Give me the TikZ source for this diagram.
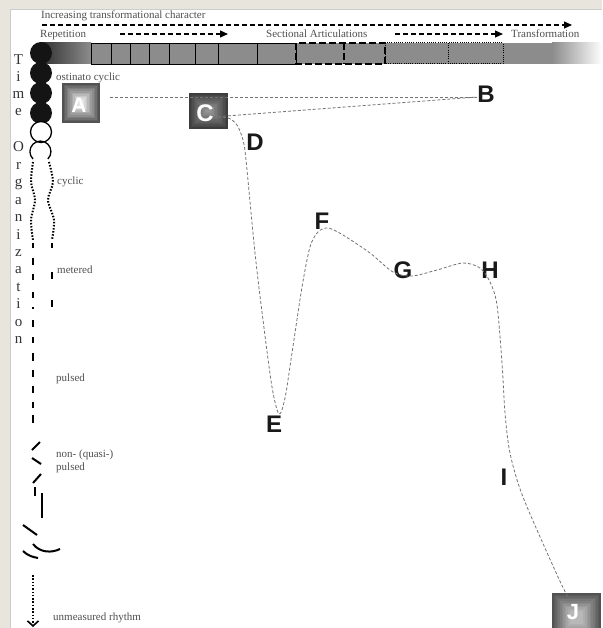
\documentclass[tikz,border=0pt]{standalone}
\usepackage{fontspec}
\setmainfont{Liberation Serif}
\newfontfamily\lsans{Liberation Sans}
\usetikzlibrary{arrows.meta,calc}
\definecolor{beige}{RGB}{231,229,220}
\definecolor{bargray}{RGB}{140,140,140}
\definecolor{txtgray}{RGB}{80,80,80}
\newcommand\gradsq[6]{%
  \foreach \k in {0,...,11}{%
    \pgfmathsetmacro\ff{#5+(#6-#5)*\k/11}%
    \pgfmathsetmacro\dd{\k*1.6}%
    \fill[black!\ff] ({#1+\dd},{#2+\dd}) rectangle ({#3-\dd},{#4-\dd});
  }}
\begin{document}
\begin{tikzpicture}[x=1pt,y=-1pt,
  lbl/.style={anchor=base west, inner sep=0, text=txtgray, font=\fontsize{11}{11}\selectfont},
  vlet/.style={anchor=base, inner sep=0, text=black!80, font=\fontsize{15}{15}\selectfont},
  big/.style={inner sep=0, text=black!90, font=\lsans\bfseries\fontsize{24}{24}\selectfont},
  boxl/.style={big, text=white},
  link/.style={draw=black!55, line width=0.8pt, dash pattern=on 3pt off 2pt},
  toparrow/.style={line width=1.1pt, dash pattern=on 5pt off 3pt, -{Triangle[length=8pt,width=7pt]}},
  pulse/.style={line width=2.2pt},
]
\useasboundingbox (0,0) rectangle (602,628);
\fill[beige] (0,0) rectangle (602,628);
\fill[white] (10,9) rectangle (602,628);
\draw[black!20, line width=0.8pt] (10.4,628) -- (10.4,9.4) -- (602,9.4);

% top texts and arrows
\node[lbl] (inc) at (41,19) {Increasing transformational character};
\coordinate (t1s) at (42,25); \coordinate (t1e) at (572,25);
\draw[toparrow] (t1s) -- (t1e);
\node[lbl] (rep) at (40,38) {Repetition};
\coordinate (t2s) at (120,34); \coordinate (t2e) at (228,34);
\draw[toparrow] (t2s) -- (t2e);
\node[lbl] (sec) at (266,38) {Sectional Articulations};
\coordinate (t3s) at (395,34); \coordinate (t3e) at (503,34);
\draw[toparrow] (t3s) -- (t3e);
\node[lbl] (tra) at (511,38) {Transformation};

% bar
\shade[left color=black!80, right color=bargray] (42,43) rectangle (91,64);
\fill[bargray] (91,43) rectangle (552,64);
\shade[left color=bargray, right color=white] (552,43) rectangle (602,64);
\draw[line width=0.9pt] (91,43) rectangle (296,64);
\foreach \x in {111,130,149,169,195,218,257} \draw[line width=0.9pt] (\x,43) -- (\x,64);
\draw[line width=1.3pt, dash pattern=on 7pt off 3pt] (296,43) rectangle (385,64) (344,43) -- (344,64);
\draw[line width=1pt, dash pattern=on 1pt off 1.2pt] (385,43) rectangle (503,64) (448,43) -- (448,64);

% circles
\foreach \y in {53,73,93,113} \fill[black!92] (41,\y) circle (11pt);
\draw[line width=1.3pt, fill=white] (41,132) circle (10.5pt);
\draw[line width=1.3pt] (33,159) arc (225:-45:10.5pt);

% cyclic dotted
\draw[line width=2pt, dash pattern=on 1.5pt off 1.6pt] plot[smooth] coordinates {(33,162) (31,182) (35,200) (31,220) (33,240)};
\draw[line width=2pt, dash pattern=on 1.5pt off 1.6pt] plot[smooth] coordinates {(49,162) (53,182) (48,200) (54,220) (52,240)};

% metered
\foreach \a/\b in {243/248,258/265,274/280,292/298,307/309} \draw[pulse] (33,\a) -- (33,\b);
\foreach \a/\b in {243/248,272/279,300/307} \draw[pulse] (52,\a) -- (52,\b);
% pulsed
\foreach \a/\b in {320/327,337/343,353/361,370/377,386/393,402/408,415/423} \draw[pulse] (33,\a) -- (33,\b);
% non-pulsed
\draw[line width=2pt] (32,450) -- (40,442);
\draw[line width=2pt] (32,458) -- (41,464);
\draw[line width=2pt] (33,483) -- (41,474);
\draw[line width=2pt] (35,487) -- (35,496);
\draw[line width=2pt] (42,493) -- (42,518);
\draw[line width=2pt] (23,525) -- (37,535);
\draw[line width=2pt] (33,544) .. controls (40,553) and (52,553) .. (60,549);
\draw[line width=2pt] (23,551) .. controls (28,556) and (33,557) .. (38,558);
% unmeasured arrow
\coordinate (u1) at (33,575); \coordinate (u2) at (33,627);
\draw[line width=2pt, dash pattern=on 1.5pt off 1.8pt, -{Straight Barb[length=5pt,width=11pt,line width=1.6pt]}] (u1) -- (u2);

% left labels
\node[lbl] (l1) at (56,81) {ostinato cyclic};
\node[lbl] (l2) at (57,185) {cyclic};
\node[lbl] (l3) at (57,273) {metered};
\node[lbl] (l4) at (56,381) {pulsed};
\node[lbl] (l5) at (56,457) {non- (quasi-)};
\node[lbl] (l6) at (56,470) {pulsed};
\node[lbl] (l7) at (53,620) {unmeasured rhythm};

% vertical title
\foreach \c/\y [count=\n] in {T/65,i/82,m/99,e/116} \node[vlet] (v\n) at (18.5,\y) {\c};
\foreach \c [count=\n] in {O,r,g,a,n,i,z,a,t,i,o,n} \node[vlet] (w\n) at (18.5,{152+(\n-1)*17.4}) {\c};

% boxes
\gradsq{62}{83}{100}{123}{68}{4}
\gradsq{189}{93}{228}{129}{76}{40}
\gradsq{552}{593}{601}{642}{68}{28}
\node[boxl, font=\lsans\bfseries\fontsize{21}{21}\selectfont] (A) at (79,105) {A};
\node[boxl] (C) at (205,113) {C};
\node[boxl, font=\lsans\bfseries\fontsize{22}{22}\selectfont] (J) at (573,612) {J};

% letters
\node[big] (B) at (486,94) {B};
\node[big] (D) at (255,142) {D};
\node[big] (E) at (274,424) {E};
\node[big] (F) at (322,221) {F};
\node[big] (G) at (403,270) {G};
\node[big] (H) at (490,270) {H};
\node[big] (I) at (504,477) {I};

% connectors
\coordinate (a0) at (110,97);
\coordinate (b0) at (477,97);
\coordinate (c0) at (213,117);
\draw[link] (a0) -- (b0);
\draw[link] (c0) -- (b0);
\draw[link] plot[smooth, tension=0.5] coordinates {(c0) (228,118) (237,125) (243,140) (246,160) (255,253) (263,320) (272,387) (279,414) (285,398) (292,353) (302,287) (310,247) (318,232) (328,228) (343,235) (370,253) (393,272) (412,276) (437,270) (463,263) (480,268) (490,282) (497,305) (502,363) (505,413) (510,453) (523,497) (558,577) (571,603)};
\end{tikzpicture}
\end{document}
